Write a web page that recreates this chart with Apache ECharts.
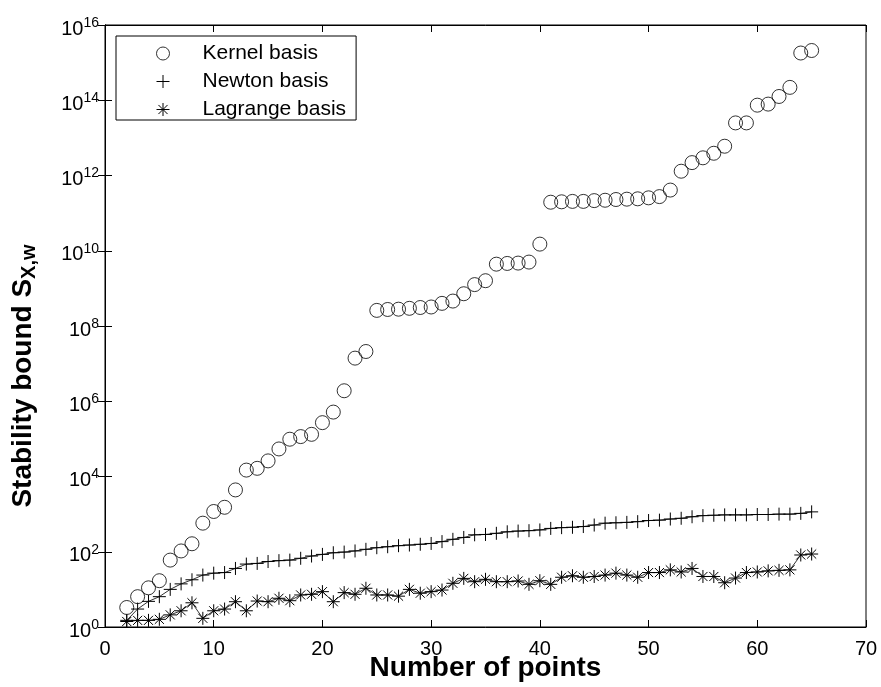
<!DOCTYPE html>
<html><head><meta charset="utf-8">
<script src="https://cdn.jsdelivr.net/npm/echarts@6/dist/echarts.min.js"></script>
<style>html,body{margin:0;padding:0;background:#fff}#c{width:881px;height:687px}</style>
</head><body><div id="c"></div>
<script>
const points = [2,3,4,5,6,7,8,9,10,11,12,13,14,15,16,17,18,19,20,21,22,23,24,25,26,27,28,29,30,31,32,33,34,35,36,37,38,39,40,41,42,43,44,45,46,47,48,49,50,51,52,53,54,55,56,57,58,59,60,61,62,63,64,65];
const kernel = [3.3,6.4,11,17,60,105,163,575,1175,1520,4400,1.48e4,1.65e4,2.6e4,5.4e4,9.8e4,1.15e5,1.32e5,2.7e5,5.15e5,1.9e6,1.4e7,2.1e7,2.6e8,2.75e8,2.8e8,2.95e8,3.1e8,3.2e8,4.0e8,4.6e8,7.2e8,1.26e9,1.6e9,4.4e9,4.6e9,4.7e9,5.0e9,1.5e10,1.95e11,2.0e11,2.05e11,2.05e11,2.15e11,2.2e11,2.3e11,2.35e11,2.4e11,2.55e11,2.75e11,4.1e11,1.3e12,2.2e12,2.95e12,3.9e12,6.0e12,2.5e13,2.5e13,7.4e13,7.9e13,1.26e14,2.2e14,1.8e15,2.1e15];
const newton = [1.5,3,4.8,6.4,10,14,18,24,27,28,36,47,49,55,58,60,67,77,85,94,98,105,116,128,136,145,151,158,166,186,214,240,282,288,309,339,355,363,380,417,437,447,468,513,575,589,603,631,676,692,741,776,851,912,933,955,955,955,977,977,1000,1000,1047,1148];
const lagrange = [1.4,1.5,1.5,1.6,2.1,2.7,4.4,1.7,2.7,3.0,4.7,2.7,4.9,4.7,5.8,5.0,7.1,7.4,8.7,4.7,8.2,7.4,10.7,7.1,7.1,6.6,10,7.9,8.7,9.6,14.5,19.6,16,18.5,16,16,16.7,13.6,17,13.6,21,23,21,22,24,27,24,21,28,28,33,29,36,22,22,15,20,28,29,31,32,33,82,87];
const seriesNames = ['Kernel basis','Newton basis','Lagrange basis'];

const pair = arr => points.map((x,i)=>[x,arr[i]]);
const plusPath = 'path://M0,-10L0,10M-10,0L10,0';
const starPath = 'path://M0,-10L0,10M-10,0L10,0M-7,-7L7,7M-7,7L7,-7';
const font = 'Liberation Sans, Arial, sans-serif';
const mk = {color:'transparent', borderColor:'#000', borderWidth:1};

const chart = echarts.init(document.getElementById('c'));
const yLabel = v => { const e = Math.round(Math.log10(v)); return '10{sup|' + e + '}'; };
chart.setOption({
  animation:false,
  backgroundColor:'#fff',
  grid:{left:105, top:25, right:15, bottom:60, show:true, borderColor:'#000', borderWidth:1,
    containLabel:false, outerBoundsMode:'none'},
  legend:{
    left:116, top:36, orient:'vertical', borderColor:'#000', borderWidth:1,
    padding:[7,10,0,40], itemWidth:13, itemHeight:13, itemGap:7,
    textStyle:{fontFamily:font, fontSize:21, lineHeight:20, color:'#000', padding:[0,0,0,28]},
    data:[
      {name:seriesNames[0], icon:'circle', itemStyle:mk},
      {name:seriesNames[1], icon:plusPath, itemStyle:mk},
      {name:seriesNames[2], icon:starPath, itemStyle:mk}
    ]
  },
  xAxis:[{
    type:'value', min:0, max:70, interval:10, position:'bottom',
    name:'Number of points', nameLocation:'middle', nameGap:27, nameMoveOverlap:false,
    nameTextStyle:{fontFamily:font, fontSize:28, fontWeight:'bold', color:'#000'},
    axisLine:{lineStyle:{color:'#000'}},
    axisTick:{inside:true, length:7, lineStyle:{color:'#000'}},
    axisLabel:{fontFamily:font, fontSize:20, color:'#000', margin:12},
    splitLine:{show:false}
  },{
    type:'value', min:0, max:70, interval:10, position:'top',
    axisLine:{lineStyle:{color:'#000'}},
    axisTick:{inside:true, length:7, lineStyle:{color:'#000'}},
    axisLabel:{show:false}, splitLine:{show:false}
  }],
  yAxis:[{
    type:'log', logBase:10, min:1, max:1e16, interval:2, position:'left',
    name:'Stability bound S{sub|X,w}', nameLocation:'middle', nameGap:66, nameMoveOverlap:false,
    nameTextStyle:{fontFamily:font, fontSize:28, fontWeight:'bold', color:'#000', padding:[0,100,0,0],
      rich:{sub:{fontFamily:font, fontSize:20, fontWeight:'bold', color:'#000', padding:[12,0,0,0]}}},
    axisLine:{lineStyle:{color:'#000'}},
    axisTick:{inside:true, length:7, lineStyle:{color:'#000'}},
    minorTick:{show:false},
    axisLabel:{fontFamily:font, fontSize:20, color:'#000', margin:6, padding:[8,0,0,0], formatter:yLabel,
      rich:{sup:{fontFamily:font, fontSize:14, color:'#000', padding:[0,0,12,0]}}},
    splitLine:{show:false}
  },{
    type:'log', logBase:10, min:1, max:1e16, interval:2, position:'right',
    axisLine:{lineStyle:{color:'#000'}},
    axisTick:{inside:true, length:7, lineStyle:{color:'#000'}},
    minorTick:{show:false},
    axisLabel:{show:false}, splitLine:{show:false}
  }],
  series:[
    {name:seriesNames[0], type:'scatter', data:pair(kernel), symbol:'circle', symbolSize:14,
      itemStyle:mk},
    {name:seriesNames[1], type:'line', data:pair(newton), symbol:plusPath, symbolSize:13, showAllSymbol:true,
      lineStyle:{color:'#333', width:1}, itemStyle:mk},
    {name:seriesNames[2], type:'line', data:pair(lagrange), symbol:starPath, symbolSize:13, showAllSymbol:true,
      lineStyle:{color:'#333', width:1}, itemStyle:mk}
  ]
});
</script></body></html>
